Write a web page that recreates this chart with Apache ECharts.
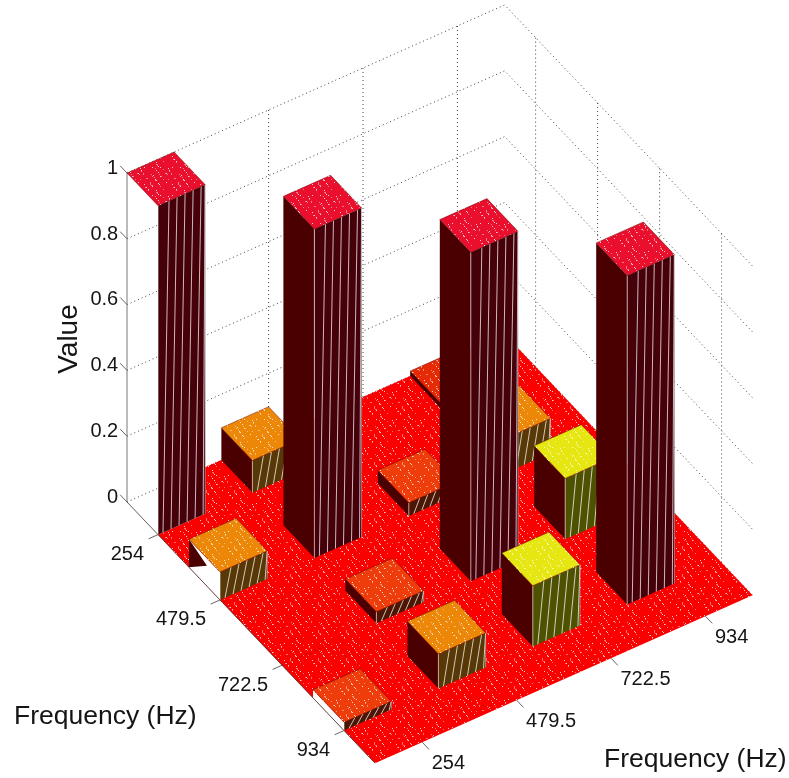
<!DOCTYPE html>
<html>
<head>
<meta charset="utf-8">
<style>html,body{margin:0;padding:0;background:#fff}#c{width:789px;height:778px}</style>
<script src="https://cdn.jsdelivr.net/npm/echarts@6/dist/echarts.min.js"></script>
</head>
<body>
<div id="c"></div>
<script>
// ---- data ----
var freqLabels = ['254', '479.5', '722.5', '934'];
var valueTicks = [0, 0.2, 0.4, 0.6, 0.8, 1];
var row254  = [1.000, 0.098, 0, 0.015];
var row4795 = [0.085, 1.000, 0.040, 0.105];
var row7225 = [0, 0.035, 1.000, 0.185];
var row934  = [0.025, 0.105, 0.185, 1.000];
var matrix = [row254, row4795, row7225, row934];

// ---- oblique view: grid steps along each frequency axis and per unit of value ----
var ORIGIN = [127, 502], STEP_U = [62, 65.3], STEP_V = [94.4, -42], STEP_Z = 329;
function proj(u, v, z) {
  return [ORIGIN[0] + u * STEP_U[0] + v * STEP_V[0],
          ORIGIN[1] + u * STEP_U[1] + v * STEP_V[1] - z * STEP_Z];
}
var N = freqLabels.length, BAR = 0.5;

// stippled texture
var tile = document.createElement('canvas');
tile.width = tile.height = 28;
(function () {
  var g = tile.getContext('2d');
  for (var i = 0; i < 28; i++) for (var j = 0; j < 28; j++) {
    var h = (i * 13 + j * 29 + (i * j) % 7 * 11) % 31;
    if (h === 0 || h === 9) { g.fillStyle = h ? 'rgba(255,255,255,.45)' : 'rgba(255,255,255,.8)'; g.fillRect(i, j, 1, 1); }
  }
})();
var dots = { image: tile, repeat: 'repeat' };

function topColor(z) { return z > 0.9 ? '#ea0f2c' : z > 0.15 ? '#e6e612' : z > 0.07 ? '#ec8708' : z > 0.02 ? '#ee3c0a' : '#e62a05'; }
function sideColor(z) { return z > 0.9 ? '#46000a' : z > 0.15 ? '#4e5200' : z > 0.07 ? '#573806' : '#4c1604'; }
var LEFT_FACE = '#4a0000';

function mapPts(api, pts) {
  return pts.map(function (p) { return api.coord(proj(p[0], p[1], p[2])); });
}
function poly(api, pts, fill, extra) {
  var st = { fill: fill };
  if (extra) for (var k in extra) st[k] = extra[k];
  return { type: 'polygon', shape: { points: mapPts(api, pts) }, style: st };
}
function line(api, pts, stroke, w, dash) {
  return { type: 'polyline', shape: { points: mapPts(api, pts) },
           style: { stroke: stroke, lineWidth: w, lineDash: dash || null, fill: null } };
}
function txt(api, pos, dx, dy, s, size, align, rot) {
  var c = api.coord(pos);
  return { type: 'text', x: c[0] + dx, y: c[1] + dy, rotation: rot || 0,
    style: { text: s, fill: '#151515', font: size + 'px "Liberation Sans", Arial, sans-serif',
             textAlign: align, textVerticalAlign: 'middle' } };
}

// back walls
function renderWalls(params, api) {
  var ch = [], D = '#444', dash = [1, 3];
  valueTicks.forEach(function (z) {
    ch.push(line(api, [[0, 0, z], [0, N, z], [N, N, z]], D, 1, dash));
  });
  for (var i = 0; i < N; i++) {
    ch.push(line(api, [[0, i + 0.5, 0], [0, i + 0.5, 1]], D, 1, dash));
    ch.push(line(api, [[i + 0.5, N, 0], [i + 0.5, N, 1]], D, 1, dash));
  }
  return { type: 'group', children: ch };
}
// floor
function renderFloor(params, api) {
  var outline = [[BAR, 0, 0], [N, 0, 0], [N, N, 0], [0, N, 0], [0, BAR, 0], [BAR, BAR, 0]];
  return { type: 'group', children: [
    poly(api, outline, '#fb0000'),
    poly(api, outline, dots),
    line(api, [[2.5, 0, 0], [2.5, 0.5, 0]], 'rgba(130,0,0,.55)', 1, [2, 3])
  ] };
}
// axes
function renderAxes(params, api) {
  var A = '#666', ch = [];
  ch.push(line(api, [[0, 0, 0], [0, 0, 1]], '#777', 1));
  valueTicks.forEach(function (z) {
    ch.push(line(api, [[0, 0, z], [-0.11, 0, z]], A, 1));
    var c = proj(-0.11, 0, z);
    ch.push(txt(api, c, -2, 2.5, String(z), 20, 'right'));
  });
  for (var i = 0; i < N; i++) {
    ch.push(line(api, [[i + 0.5, 0, 0], [i + 0.5, -0.1, 0]], A, 1));
    ch.push(line(api, [[N, i + 0.5, 0], [N + 0.11, i + 0.5, 0]], A, 1));
    ch.push(txt(api, proj(i + 0.5, 0, 0), -14, 20, freqLabels[i], 20, 'right'));
    ch.push(txt(api, proj(N, i + 0.5, 0), 9.5, 21.5, freqLabels[i], 20, 'left'));
  }
  return { type: 'group', children: ch };
}
// a single bar
function renderBar(params, api) {
  var u = api.value(0), v = api.value(1), z = api.value(2), ch = [];
  var u1 = u + BAR, v1 = v + BAR;
  var isEdge = v === 0;
  // left face
  if (!isEdge) {
    ch.push(poly(api, [[u, v, z], [u1, v, z], [u1, v, 0], [u, v, 0]], LEFT_FACE));
  } else if (u > 0) {
    ch.push(poly(api, [[u, v, z], [u1, v, z], [u1, v, 0], [u, v, 0]], '#ffffff'));
    if (z > 0.05) ch.push(poly(api, [[u, v, z], [u + 0.29, v, 0.062], [u, v, 0]], LEFT_FACE));
  }
  // right face with mesh lines
  ch.push(poly(api, [[u1, v, z], [u1, v1, z], [u1, v1, 0], [u1, v, 0]], sideColor(z)));
  for (var i = 0; i < 6; i++) {
    var fb = 0.106 + 0.17 * i, ft = Math.min(1, fb + 0.128);
    ch.push(line(api, [[u1, v + BAR * fb, 0], [u1, v + BAR * ft, z]], 'rgba(255,255,255,.72)', 1));
  }
  ch.push(line(api, [[u1, v, 0], [u1, v, z]], 'rgba(255,255,255,.6)', 1));
  ch.push(line(api, [[u1, v1, 0], [u1, v1, z]], 'rgba(190,190,190,.6)', 1));
  // top face
  var top = [[u, v, z], [u, v1, z], [u1, v1, z], [u1, v, z]];
  ch.push(poly(api, top, topColor(z), { stroke: 'rgba(90,0,0,.55)', lineWidth: 0.8 }));
  ch.push(poly(api, top, dots));
  return { type: 'group', children: ch };
}
function renderFront(params, api) {
  return { type: 'group', children: [
    line(api, [[0, 0, 0], [N, 0, 0]], 'rgba(70,50,50,.8)', 1),
    txt(api, [14, 717], 0, 0, 'Frequency (Hz)', 26.5, 'left'),
    txt(api, [604, 760], 0, 0, 'Frequency (Hz)', 26.5, 'left'),
    txt(api, [69, 339], 0, 0, 'Value', 28, 'center', Math.PI / 2)
  ] };
}

// painter's order: far cells first
var barData = [];
matrix.forEach(function (row, u) {
  row.forEach(function (z, v) { if (z > 0) barData.push([u, v, z]); });
});
barData.sort(function (a, b) { return (a[0] * STEP_U[1] + a[1] * STEP_V[1]) - (b[0] * STEP_U[1] + b[1] * STEP_V[1]); });

function once(render) {
  return { type: 'custom', renderItem: render, data: [[0, 0, 0]], clip: false, silent: true, animation: false };
}
var chart = echarts.init(document.getElementById('c'), null, { renderer: 'canvas' });
chart.setOption({
  backgroundColor: '#ffffff',
  animation: false,
  grid: { left: 0, right: 0, top: 0, bottom: 0 },
  xAxis: { type: 'value', min: 0, max: 789, show: false },
  yAxis: { type: 'value', min: 0, max: 778, inverse: true, show: false },
  series: [
    once(renderWalls),
    once(renderFloor),
    once(renderAxes),
    { type: 'custom', renderItem: renderBar, data: barData, clip: false, silent: true, animation: false,
      dimensions: ['u', 'v', 'value'], encode: { x: 0, y: 1 } },
    once(renderFront)
  ]
});
</script>
</body>
</html>
